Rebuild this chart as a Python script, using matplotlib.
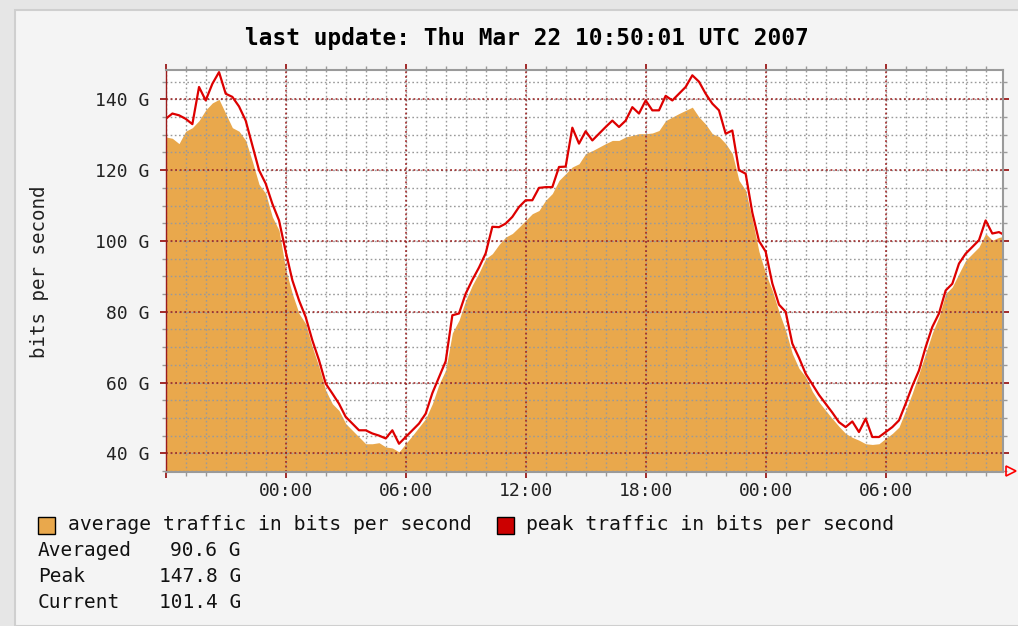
import pandas as pd
import matplotlib
matplotlib.use("Agg")
import matplotlib.pyplot as plt
from matplotlib.lines import Line2D
from matplotlib.patches import Rectangle

### data (G bits/s), one sample every 20 minutes from Tue 18:00 ###
peak = [134.5, 136, 135.5, 134.5, 133, 143.5, 139.7, 144.4, 147.7, 141.6,
        140.7, 138, 134, 127, 120, 116.2, 110.5, 105.8, 97, 88.9,
        83.2, 78.5, 71.9, 66.3, 59.7, 56.9, 54, 50.3, 48.4, 46.5,
        46.5, 45.6, 45, 44.2, 46.5, 42.7, 44.6, 46.5, 48.4, 51.2,
        57, 61.5, 66, 79, 79.5, 85.1, 89, 92.5, 96.5, 104,
        103.9, 104.9, 106.8, 109.6, 111.5, 111.5, 115, 115.2, 115.2, 120.9,
        121, 132, 127.5, 131, 128.4, 130.3, 132.2, 134, 132.2, 134,
        137.8, 136, 139.7, 136.9, 136.9, 141, 139.7, 141.6, 143.5, 146.8,
        145, 141.6, 138.8, 136.9, 130.3, 131.2, 120, 119, 108, 100,
        97, 88, 82, 80, 71, 67, 62.5, 59.5, 56.5, 54,
        51.5, 48.8, 47.4, 49, 46, 49.8, 44.6, 44.6, 46, 47.4,
        49.3, 54, 59, 63.4, 70, 75.7, 79.5, 86, 87.9, 93.6,
        96.4, 98.3, 100.2, 105.8, 102.1, 102.5, 101.5]

average = [129.4, 129, 127.5, 131, 132, 134, 137, 139, 140, 136,
           132, 131, 128.4, 122.5, 116, 113.4, 106.8, 103, 92, 85.1,
           79.5, 76.6, 70, 64.4, 57.8, 54, 52.1, 48.4, 46.5, 44.6,
           42.7, 42.7, 43, 41.8, 41.5, 40.4, 42.7, 45, 47.4, 49.8,
           54, 59.5, 63.5, 74, 77.6, 83.2, 87.5, 91, 95, 96.4,
           99, 101.1, 102.1, 103.9, 105.8, 107.7, 108.6, 111.5, 113.4, 117.1,
           119, 120.9, 121.8, 124.7, 125.5, 126.5, 127.5, 128.4, 128.4, 129.4,
           129.8, 130.3, 130.3, 130.5, 131.2, 134, 135, 136, 136.9, 137.8,
           135, 133, 130.3, 129.5, 127.5, 124.7, 117.1, 114.3, 106, 97,
           90.8, 86, 80, 74.7, 68.2, 64, 61.6, 57.5, 54.5, 52.1,
           49.8, 47.6, 45.6, 44.5, 43.7, 42.7, 42.5, 42.7, 44.2, 45.6,
           47.4, 52.1, 57, 62.5, 68.2, 74, 78.5, 85.1, 87, 90.8,
           94.5, 96.4, 98.3, 102.1, 100.2, 101, 101.4]

times = pd.date_range("2007-03-20 18:00", periods=len(peak), freq="20min")

tick_labels = ["", "00:00", "06:00", "12:00", "18:00", "00:00", "06:00"]
major_times = pd.date_range("2007-03-20 18:00", periods=len(tick_labels), freq="6h")
hour_times = pd.date_range("2007-03-20 18:00", "2007-03-22 11:00", freq="1h")
y_major = [40, 60, 80, 100, 120, 140]
y_minor = list(range(35, 150, 5))

title = "last update: Thu Mar 22 10:50:01 UTC 2007"
stats = [("Averaged", "90.6 G"), ("Peak", "147.8 G"), ("Current", "101.4 G")]

ORANGE = "#E9A84C"
RED = "#DD0000"
GRIDRED = "#9B1B1B"
GRAY = "#9A9A9A"
BG = "#F4F4F4"
MONO = "DejaVu Sans Mono"

W, H = 1018, 626
fig = plt.figure(figsize=(W / 100, H / 100), dpi=100)
fig.patch.set_facecolor("#E6E6E6")
fig.add_artist(Rectangle((15 / W, 0), 1, 1 - 10 / H, transform=fig.transFigure,
                         facecolor=BG, edgecolor="#CFCFCF", lw=1.5, zorder=0))

ax = fig.add_axes([165.7 / W, 1 - 471.7 / H, (1003.3 - 165.7) / W, (471.7 - 70) / H])
ax.set_facecolor("white")

ax.fill_between(times, 0, average, color=ORANGE, lw=0, zorder=1)
ax.plot(times, peak, color=RED, lw=1.6, zorder=4)

ax.set_xlim(pd.Timestamp("2007-03-20 18:00"), pd.Timestamp("2007-03-22 11:53"))
ax.set_ylim(34.8, 148.3)

# grid: gray dotted every hour / 5G, dark red every 6h / 20G, drawn over the area
for t in hour_times:
    ax.axvline(t, color=GRAY, lw=1, ls=(0, (1.2, 1.8)), zorder=2)
for v in y_minor:
    ax.axhline(v, color=GRAY, lw=1, ls=(0, (1.2, 1.8)), zorder=2)
for t in major_times:
    ax.axvline(t, color=GRIDRED, lw=1.1, ls=(0, (1.2, 1.8)), zorder=3)
for v in y_major:
    ax.axhline(v, color=GRIDRED, lw=1.1, ls=(0, (1.2, 1.8)), zorder=3)

ax.set_xticks(major_times)
ax.set_xticklabels(tick_labels)
ax.set_xticks(hour_times, minor=True)
ax.set_yticks(y_major)
ax.set_yticklabels([f"{v} G" for v in y_major])
ax.set_yticks(y_minor, minor=True)

ax.tick_params(which="both", direction="out", top=True, right=True,
               labelsize=13, labelfontfamily=MONO, labelcolor="#222222")
ax.tick_params(which="major", color=GRIDRED, length=4.5, width=1.3)
ax.tick_params(which="minor", color=GRAY, length=3, width=1)
ax.tick_params(axis="y", pad=7)
ax.tick_params(axis="x", pad=3)

for side in ["top", "right", "bottom"]:
    ax.spines[side].set_color(GRAY)
    ax.spines[side].set_linewidth(1.5)
ax.spines["left"].set_color(GRIDRED)
ax.spines["left"].set_linewidth(1)
for s in ax.spines.values():
    s.set_zorder(5)

# little arrow at end of x axis
fig.add_artist(Line2D([1011 / W], [1 - 471 / H], marker=">", ms=7, mfc="none",
                      mec="#FF0000", mew=1.2, transform=fig.transFigure))

fig.text(527 / W, 1 - 38 / H, title, ha="center", va="center",
         fontsize=16.4, fontweight="bold", family=MONO, color="black")
fig.text(40 / W, 1 - 272 / H, "bits per second", rotation=90, ha="center",
         va="center", fontsize=13.8, family=MONO, color="#222222")

# legend
fig.add_artist(Rectangle((38 / W, 1 - 534 / H), 17 / W, 17 / H, transform=fig.transFigure,
                         facecolor=ORANGE, edgecolor="black", lw=1))
fig.text(68 / W, 1 - 525 / H, "average traffic in bits per second", ha="left",
         va="center", fontsize=14.2, family=MONO, color="#111111")
fig.add_artist(Rectangle((497 / W, 1 - 534 / H), 17 / W, 17 / H, transform=fig.transFigure,
                         facecolor="#CC0000", edgecolor="black", lw=1))
fig.text(526 / W, 1 - 525 / H, "peak traffic in bits per second", ha="left",
         va="center", fontsize=14.2, family=MONO, color="#111111")

for i, (name, val) in enumerate(stats):
    y = 1 - (551 + 26 * i) / H
    fig.text(38 / W, y, name, ha="left", va="center", fontsize=14, family=MONO, color="#111111")
    fig.text(241 / W, y, val, ha="right", va="center", fontsize=14, family=MONO, color="#111111")

fig.savefig("out.png", dpi=100, facecolor=fig.get_facecolor())
